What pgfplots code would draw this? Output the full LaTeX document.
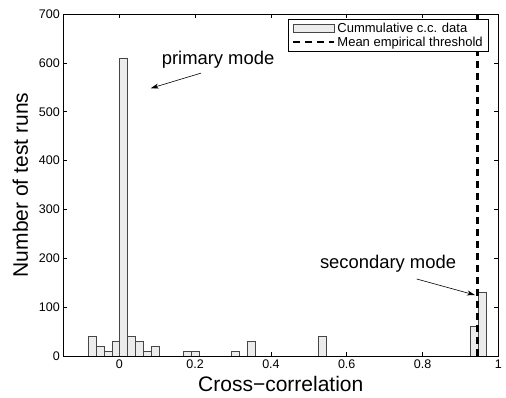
\documentclass[border=0pt]{standalone}
\usepackage{fontspec}
\setmainfont{Liberation Sans}
\usepackage{pgfplots}
\pgfplotsset{compat=1.18}
\usetikzlibrary{arrows.meta}

\definecolor{barfill}{RGB}{236,236,236}
\definecolor{baredge}{RGB}{70,70,70}

\begin{document}
\begin{tikzpicture}
\useasboundingbox (0,0) rectangle (506pt,398pt);
\begin{axis}[
    at={(63.3pt,42pt)}, anchor=south west,
    scale only axis,
    width=435pt, height=342pt,
    xmin=-0.148, xmax=1.0,
    ymin=0, ymax=700,
    xtick={0,0.2,0.4,0.6,0.8,1},
    xticklabels={0,0.2,0.4,0.6,0.8,1},
    ytick={0,100,...,700},
    tick align=inside,
    major tick length=4pt,
    axis line style={line width=0.9pt},
    every tick/.style={line width=0.6pt, black},
    tick label style={font=\fontsize{12.5}{14}\selectfont},
    /pgf/number format/assume math mode=true,
    xlabel={Cross\textminus correlation},
    ylabel={Number of test runs},
    label style={font=\fontsize{21}{24}\selectfont},
    xlabel style={yshift=-1pt},
    ylabel style={yshift=4pt},
    legend cell align=left,
    legend style={at={(0.9786,0.9854)}, anchor=north east,
        font=\fontsize{13}{14}\selectfont,
        draw=black, line width=0.6pt,
        inner xsep=4pt, inner ysep=1.5pt,
        row sep=-1pt},
]
\addplot[ybar, bar width=0.021, fill=barfill, draw=baredge, line width=0.6pt,
    legend image code/.code={\draw[fill=barfill, draw=baredge, line width=0.6pt] (0pt,-4.2pt) rectangle (41pt,4.2pt);}]
coordinates {
(-0.0724,40) (-0.0514,20) (-0.0304,10) (-0.0094,30) (0.0116,610)
(0.0326,40) (0.0536,30) (0.0746,10) (0.0956,20)
(0.1796,10) (0.2006,10) (0.3056,10) (0.3476,30)
(0.5366,40) (0.9356,60) (0.9566,130)
};
\addlegendentry{Cummulative c.c. data}
\addplot[black, line width=2.2pt, dash pattern=on 7pt off 5pt,
    legend image code/.code={\draw[black, line width=2.2pt, dash pattern=on 7pt off 5pt] (0pt,0pt) -- (41pt,0pt);}]
coordinates {(0.945,0) (0.945,700)};
\addlegendentry{Mean empirical threshold}

\node[font=\fontsize{18.4}{20}\selectfont] at (axis cs:0.2604,606) {primary mode};
\draw[-{Stealth[length=8pt,width=5pt]}, line width=0.6pt] (axis cs:0.2156,579) -- (axis cs:0.0828,548);
\node[font=\fontsize{18.4}{20}\selectfont] at (axis cs:0.709,188) {secondary mode};
\draw[-{Stealth[length=8pt,width=5pt]}, line width=0.6pt] (axis cs:0.7847,157.6) -- (axis cs:0.9385,124.8);
\end{axis}
\end{tikzpicture}
\end{document}
